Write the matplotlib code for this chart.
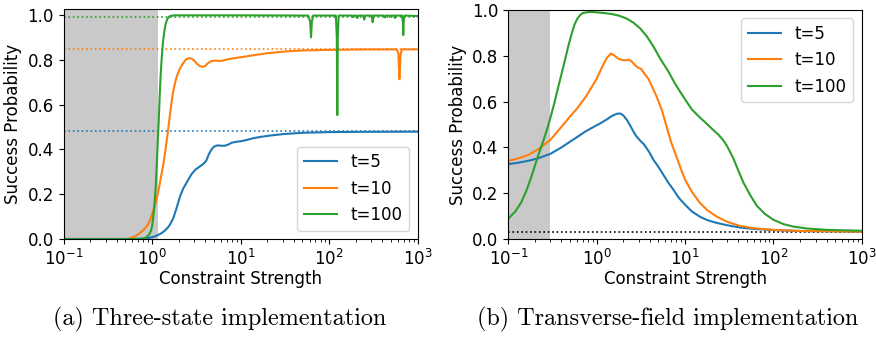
import matplotlib
matplotlib.use("Agg")
import matplotlib.pyplot as plt

# ---- data: (a) three-state implementation ----
a_t5_x = [0.1, 0.6, 0.8, 0.9, 1.0, 1.1, 1.2, 1.3, 1.4, 1.5, 1.6, 1.74, 1.9, 2.07, 2.25,
          2.5, 2.8, 3.1, 3.5, 3.8, 4.1, 4.4, 4.7, 5.0, 5.5, 6.1, 6.6, 7.2, 8.0, 9.0,
          10, 11.7, 14, 17, 22, 30, 50, 100, 200, 1000]
a_t5_y = [0.0, 0.0, 0.002, 0.004, 0.008, 0.013, 0.02, 0.028, 0.038, 0.05, 0.065,
          0.094, 0.14, 0.19, 0.225, 0.257, 0.29, 0.31, 0.325, 0.335, 0.35, 0.38,
          0.40, 0.412, 0.418, 0.416, 0.416, 0.421, 0.43, 0.434, 0.436, 0.442, 0.45,
          0.456, 0.462, 0.468, 0.474, 0.477, 0.478, 0.479]

a_t10_x = [0.1, 0.5, 0.56, 0.62, 0.68, 0.73, 0.8, 0.87, 0.94, 1.0, 1.07, 1.13, 1.2,
           1.28, 1.35, 1.42, 1.5, 1.6, 1.7, 1.8, 1.9, 2.05, 2.2, 2.4, 2.6, 2.8, 3.0,
           3.2, 3.45, 3.7, 3.95, 4.3, 4.7, 5.1, 5.6, 6.1, 7.0, 8.5, 10, 14, 20, 30,
           47, 100, 265, 580, 605, 621, 640, 660, 1000]
a_t10_y = [0.0, 0.0, 0.003, 0.009, 0.017, 0.027, 0.04, 0.056, 0.08, 0.11, 0.145,
           0.18, 0.23, 0.29, 0.34, 0.40, 0.47, 0.56, 0.64, 0.69, 0.725, 0.758, 0.78,
           0.80, 0.807, 0.805, 0.796, 0.783, 0.772, 0.768, 0.771, 0.785, 0.794, 0.796,
           0.795, 0.795, 0.801, 0.807, 0.811, 0.82, 0.829, 0.836, 0.841, 0.844, 0.846,
           0.846, 0.83, 0.713, 0.82, 0.846, 0.846]

a_t100_x = [0.1, 0.75, 0.8, 0.87, 0.92, 0.97, 1.0, 1.03, 1.06, 1.08, 1.1, 1.13, 1.16,
            1.19, 1.22, 1.25, 1.29, 1.33, 1.38, 1.43, 1.5, 1.6, 1.8, 10, 58, 61,
            62.4, 63.8, 66, 119, 122, 123.6, 125.2, 128, 182, 187, 192, 202, 208, 214,
            242, 249, 256, 302, 310, 318, 415, 427, 439, 475, 486, 497, 542, 554, 566,
            665, 680, 687, 694, 710, 1000]
a_t100_y = [0.0, 0.0, 0.002, 0.009, 0.018, 0.035, 0.056, 0.095, 0.146, 0.19, 0.235,
            0.33, 0.43, 0.53, 0.64, 0.73, 0.814, 0.88, 0.93, 0.963, 0.985, 0.995,
            0.998, 0.998, 0.997, 0.97, 0.90, 0.97, 0.997, 0.997, 0.9, 0.553, 0.9,
            0.997, 0.997, 0.99, 0.997, 0.997, 0.986, 0.997, 0.997, 0.979, 0.997,
            0.997, 0.968, 0.997, 0.997, 0.989, 0.997, 0.997, 0.991, 0.997, 0.997,
            0.986, 0.997, 0.997, 0.97, 0.91, 0.97, 0.997, 0.995]

a_limits = [0.48, 0.846, 0.99]   # long-time values (dotted)
a_shade = 1.17

# ---- data: (b) transverse-field implementation ----
b_t5_x = [0.1, 0.13, 0.17, 0.22, 0.3, 0.4, 0.5, 0.6, 0.75, 0.9, 1.1, 1.3, 1.5, 1.7,
          1.85, 2.0, 2.2, 2.4, 2.6, 2.8, 3.1, 3.4, 3.7, 4.0, 4.4, 4.8, 5.2, 5.7, 6.5,
          7.4, 8.5, 10, 12, 14.8, 18, 23, 30, 42, 60, 100, 200, 1000]
b_t5_y = [0.327, 0.333, 0.342, 0.353, 0.372, 0.40, 0.425, 0.445, 0.47, 0.487, 0.505,
          0.522, 0.538, 0.547, 0.548, 0.54, 0.52, 0.495, 0.47, 0.45, 0.43, 0.415,
          0.395, 0.375, 0.345, 0.325, 0.305, 0.28, 0.245, 0.215, 0.18, 0.15, 0.12,
          0.097, 0.082, 0.07, 0.06, 0.05, 0.044, 0.039, 0.035, 0.033]

b_t10_x = [0.1, 0.13, 0.17, 0.22, 0.3, 0.4, 0.5, 0.6, 0.75, 0.9, 1.0, 1.15, 1.3, 1.45,
           1.6, 1.75, 1.92, 2.1, 2.3, 2.5, 2.7, 2.9, 3.2, 3.5, 3.85, 4.3, 4.8, 5.5,
           6.2, 7.0, 8.0, 9.0, 10, 12, 14.8, 18, 23, 30, 42, 60, 100, 200, 1000]
b_t10_y = [0.342, 0.352, 0.368, 0.393, 0.433, 0.49, 0.535, 0.57, 0.62, 0.67, 0.70,
           0.75, 0.79, 0.81, 0.80, 0.788, 0.782, 0.78, 0.783, 0.775, 0.76, 0.75,
           0.742, 0.72, 0.70, 0.66, 0.62, 0.56, 0.49, 0.42, 0.36, 0.305, 0.26, 0.205,
           0.157, 0.125, 0.097, 0.075, 0.057, 0.047, 0.04, 0.035, 0.032]

b_t100_x = [0.1, 0.12, 0.14, 0.16, 0.18, 0.2, 0.22, 0.25, 0.28, 0.3, 0.33, 0.36, 0.4,
            0.44, 0.48, 0.52, 0.56, 0.6, 0.65, 0.7, 0.8, 0.9, 1.0, 1.2, 1.5, 1.8, 2.2,
            2.6, 3.1, 3.7, 4.4, 5.2, 6.4, 7.8, 10, 12, 14.8, 18, 21, 24, 27, 30, 35,
            40, 46, 55, 65, 80, 100, 130, 170, 238, 400, 1000]
b_t100_y = [0.089, 0.12, 0.16, 0.21, 0.265, 0.32, 0.37, 0.43, 0.49, 0.53, 0.59,
            0.65, 0.72, 0.785, 0.845, 0.895, 0.935, 0.96, 0.978, 0.987, 0.991, 0.991,
            0.99, 0.987, 0.982, 0.975, 0.962, 0.945, 0.92, 0.885, 0.84, 0.79, 0.735,
            0.675, 0.61, 0.565, 0.53, 0.50, 0.475, 0.455, 0.432, 0.405, 0.355, 0.30,
            0.245, 0.19, 0.145, 0.11, 0.084, 0.065, 0.054, 0.046, 0.04, 0.036]

b_limit = 0.03
b_shade = 0.3

labels = ["t=5", "t=10", "t=100"]
colors = ["C0", "C1", "C2"]
SHADE = "#c9c9c9"
FS = 12

plt.rcParams["font.size"] = FS

fig = plt.figure(figsize=(8.76, 3.37), dpi=100)
ax1 = fig.add_axes([63.5 / 876, 98 / 337, 354.2 / 876, 229.7 / 337])
ax2 = fig.add_axes([508.3 / 876, 98 / 337, 353.4 / 876, 229 / 337])

# (a)
ax1.axvspan(0.1, a_shade, color=SHADE, lw=0, zorder=0)
for yl, c in zip(a_limits, colors):
    ax1.axhline(yl, color=c, ls=":", lw=1.2, zorder=1)
for xs, ys, lab, c in zip([a_t5_x, a_t10_x, a_t100_x], [a_t5_y, a_t10_y, a_t100_y],
                          labels, colors):
    ax1.plot(xs, ys, color=c, lw=1.5, label=lab, zorder=2)
ax1.set_xscale("log")
ax1.set_xlim(0.1, 1000)
ax1.set_ylim(0, 1.025)
ax1.set_yticks([0.0, 0.2, 0.4, 0.6, 0.8, 1.0])
ax1.set_xlabel("Constraint Strength", labelpad=1)
ax1.set_ylabel("Success Probability")
ax1.legend(loc="lower right", fontsize=FS)

# (b)
ax2.axvspan(0.1, b_shade, color=SHADE, lw=0, zorder=0)
ax2.axhline(b_limit, color="k", ls=":", lw=1.2, zorder=1)
for xs, ys, lab, c in zip([b_t5_x, b_t10_x, b_t100_x], [b_t5_y, b_t10_y, b_t100_y],
                          labels, colors):
    ax2.plot(xs, ys, color=c, lw=1.5, label=lab, zorder=2)
ax2.set_xscale("log")
ax2.set_xlim(0.1, 1000)
ax2.set_ylim(0, 1.0)
ax2.set_yticks([0.0, 0.2, 0.4, 0.6, 0.8, 1.0])
ax2.set_xlabel("Constraint Strength", labelpad=1)
ax2.set_ylabel("Success Probability")
ax2.legend(loc="upper right", fontsize=FS)

# sub-captions
fig.text(52.7 / 876, 1 - 319 / 337, "(a) Three-state implementation",
         ha="left", va="center", family="cmr10", fontsize=17.4)
fig.text(476.7 / 876, 1 - 319 / 337, "(b) Transverse-field implementation",
         ha="left", va="center", family="cmr10", fontsize=17.4)

fig.savefig("out.png", dpi=100)
